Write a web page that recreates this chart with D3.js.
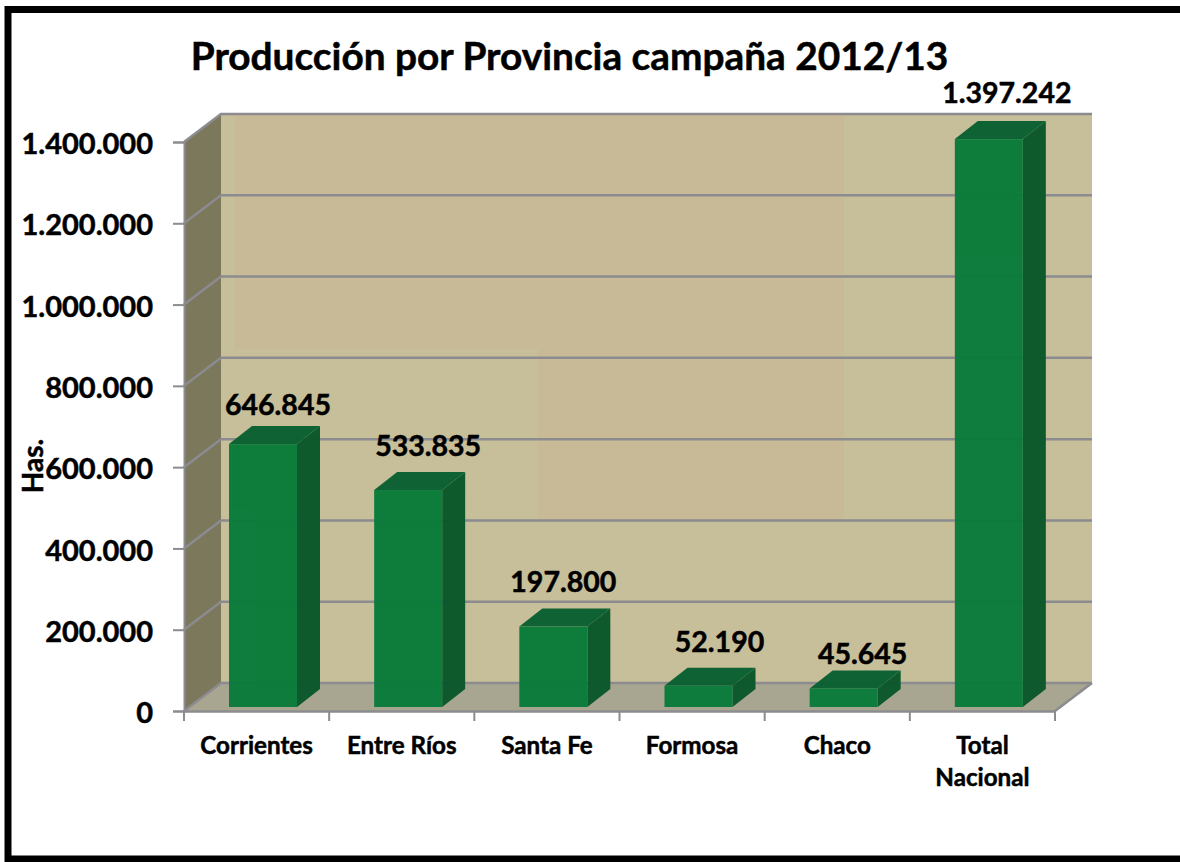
<!DOCTYPE html>
<html>
<head>
<meta charset="utf-8">
<script src="https://cdn.jsdelivr.net/npm/d3@7"></script>
<style>
    html, body { margin: 0; padding: 0; background: #fff; overflow: hidden; }
    svg { display: block; }
    text { font-family: Lato, "Open Sans", sans-serif; font-weight: 700; fill: #000; stroke: #000; stroke-width: 0.5px; }
    .tick text { fill: #000; }
</style>
</head>
<body>
<div id="chart"></div>
<script>
const title = 'Producción por Provincia campaña 2012/13';
const axisTitle = 'Has.';
const categories = ['Corrientes', 'Entre Ríos', 'Santa Fe', 'Formosa', 'Chaco', 'Total Nacional'];
const values = [646845, 533835, 197800, 52190, 45645, 1397242];
const yTicks = [0, 200000, 400000, 600000, 800000, 1000000, 1200000, 1400000];
// the labels were moved by hand in the original, so each one has its own nudge
const labelNudgeX = [15, 20, 10, 21, 19, 18];
const labelNudgeY = [-29, -34, -35, -34, -24, -36];

const width = 1180, height = 862;
const depthX = 37, depthY = -28;      // wall depth
const barDepthX = 23, barDepthY = -18;
const barInsetX = 45, barWidth = 68, barLift = -4;

const svg = d3.select('#chart').append('svg')
    .attr('width', width)
    .attr('height', height);

const x = d3.scaleBand().domain(categories).range([184, 1055]);
const y = d3.scaleLinear().domain([0, 1400000]).range([711, 142]);
const numFormat = d3.formatLocale({ decimal: ',', thousands: '.', grouping: [3], currency: ['', ''] }).format(',d');

const [x0, x1] = x.range();
const y0 = y(0), yTop = y(1400000);
const poly = pts => pts.map(p => p.join(',')).join(' ');

// Outer frame, runs off the right edge
svg.append('rect')
    .attr('x', 8).attr('y', 9.5)
    .attr('width', width + 20).attr('height', 849.5)
    .attr('fill', 'none')
    .attr('stroke', '#000')
    .attr('stroke-width', 7);

// Walls
const walls = svg.append('g');
walls.append('polygon')
    .attr('points', poly([[x0 + depthX, yTop + depthY], [x1 + depthX, yTop + depthY], [x1 + depthX, y0 + depthY], [x0 + depthX, y0 + depthY]]))
    .attr('fill', '#c6bf99');
// pinker patches of the back wall
walls.append('rect').attr('x', 235).attr('y', 115).attr('width', 609).attr('height', 234).attr('fill', '#c9ba97');
walls.append('rect').attr('x', 538).attr('y', 349).attr('width', 306).attr('height', 171).attr('fill', '#c9ba97');
walls.append('polygon')
    .attr('points', poly([[x0, yTop], [x0 + depthX, yTop + depthY], [x0 + depthX, y0 + depthY], [x0, y0]]))
    .attr('fill', '#7c785c');
walls.append('polygon')
    .attr('points', poly([[x0, y0], [x0 + depthX, y0 + depthY], [x1 + depthX, y0 + depthY], [x1, y0]]))
    .attr('fill', '#a8a690');

// Gridlines, back wall and side wall
const grid = svg.append('g')
    .attr('fill', 'none')
    .attr('stroke', '#8b8b90')
    .attr('stroke-width', 2.5);
grid.selectAll('polyline')
    .data(yTicks)
    .enter().append('polyline')
    .attr('points', d => poly([[x0, y(d)], [x0 + depthX, y(d) + depthY], [x1 + depthX, y(d) + depthY]]));
grid.append('line')
    .attr('x1', x1).attr('y1', y0)
    .attr('x2', x1 + depthX).attr('y2', y0 + depthY);

// Bars
const bar = svg.append('g').selectAll('g')
    .data(categories.map((c, i) => ({ c, v: values[i], i })))
    .enter().append('g')
    .attr('opacity', 0.97);
const left = d => x(d.c) + barInsetX;
const right = d => left(d) + barWidth;
const bottom = () => y0 + barLift;
const top_ = d => y(d.v) + barLift;

bar.append('polygon')
    .attr('fill', '#0a572a')
    .attr('points', d => poly([[right(d), top_(d)], [right(d) + barDepthX, top_(d) + barDepthY], [right(d) + barDepthX, bottom() + barDepthY], [right(d), bottom()]]));
bar.append('polygon')
    .attr('fill', '#0a6030')
    .attr('points', d => poly([[left(d), top_(d)], [left(d) + barDepthX, top_(d) + barDepthY], [right(d) + barDepthX, top_(d) + barDepthY], [right(d), top_(d)]]));
bar.append('rect')
    .attr('fill', '#097b3a')
    .attr('x', left)
    .attr('y', top_)
    .attr('width', barWidth)
    .attr('height', d => bottom() - top_(d));

// Y axis
const yAxis = svg.append('g')
    .attr('transform', `translate(${x0},0)`)
    .call(d3.axisLeft(y).tickValues(yTicks).tickFormat(numFormat).tickSize(11).tickPadding(20));
yAxis.select('.domain').attr('stroke', '#8b8b90').attr('stroke-width', 2);
yAxis.selectAll('.tick line').attr('stroke', '#8b8b90').attr('stroke-width', 2);
yAxis.selectAll('.tick text').attr('font-size', 29).attr('dy', '0.4em');

// X axis
const xAxis = svg.append('g')
    .attr('transform', `translate(0,${y0})`)
    .call(d3.axisBottom(x).tickSize(0).tickPadding(0));
xAxis.select('.domain').attr('stroke', '#8b8b90').attr('stroke-width', 2.5);
xAxis.selectAll('.tick text')
    .attr('font-size', 24.2)
    .attr('dy', null)
    .attr('y', 43)
    .each(function(d) {
        const words = d === 'Total Nacional' ? d.split(' ') : [d];
        const t = d3.select(this).text(null);
        words.forEach((w, i) => {
            t.append('tspan').attr('x', 0).attr('y', 43 + i * 32).text(w);
        });
    });
svg.append('g').selectAll('line')
    .data(d3.range(categories.length + 1))
    .enter().append('line')
    .attr('x1', i => x0 + i * x.step()).attr('x2', i => x0 + i * x.step())
    .attr('y1', y0).attr('y2', y0 + 10)
    .attr('stroke', '#8b8b90')
    .attr('stroke-width', 2);

// Value labels
svg.append('g').selectAll('text')
    .data(categories.map((c, i) => ({ c, v: values[i], i })))
    .enter().append('text')
    .attr('text-anchor', 'middle')
    .attr('font-size', 28.5)
    .attr('x', d => left(d) + barWidth / 2 + labelNudgeX[d.i])
    .attr('y', d => top_(d) + labelNudgeY[d.i])
    .text(d => numFormat(d.v));

// Titles
svg.append('text')
    .attr('x', 569.5).attr('y', 70)
    .attr('text-anchor', 'middle')
    .attr('font-size', 38.8)
    .text(title);
svg.append('text')
    .attr('transform', 'translate(42.5,466) rotate(-90)')
    .attr('text-anchor', 'middle')
    .attr('font-size', 28)
    .text(axisTitle);
</script>
</body>
</html>
